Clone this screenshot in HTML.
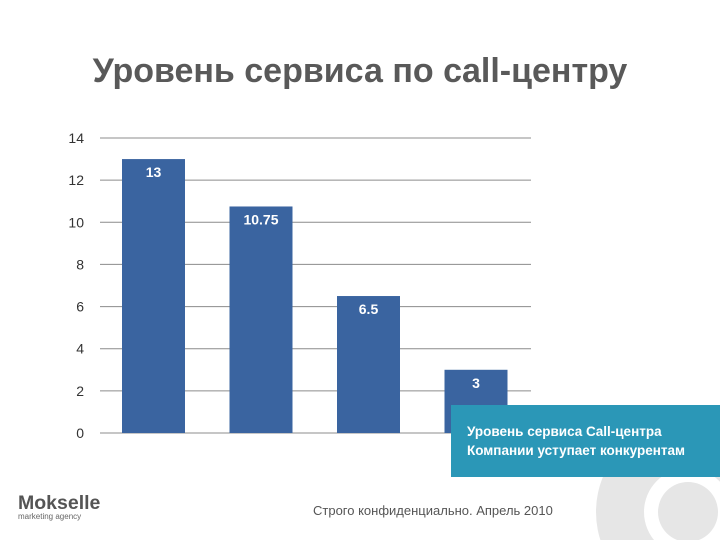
<!DOCTYPE html>
<html><head><meta charset="utf-8"><style>
html,body{margin:0;width:720px;height:540px;overflow:hidden}
body{background:#fff;position:relative;font-family:"Liberation Sans","DejaVu Sans",sans-serif}
.t{position:absolute}
</style></head><body>
<div class="t" style="left:0;width:720px;top:52px;text-align:center;font-size:34px;font-weight:bold;color:#595959">Уровень сервиса по call-центру</div>
<svg class="t" style="left:0;top:0;overflow:hidden" width="720" height="540">
<g id="deco">
<circle cx="688" cy="512" r="92" fill="#e6e6e6"/>
<circle cx="688" cy="512" r="44" fill="#fff"/>
<circle cx="688" cy="512" r="30" fill="#e6e6e6"/>
</g>
<g id="grid"></g><g id="bars"></g>
</svg>
<div class="t" style="left:451px;top:405px;width:269px;height:72px;background:#2b97b7;color:#fff;font-size:13.5px;font-weight:bold;box-sizing:border-box;padding:17px 0 0 16px;line-height:19px">Уровень сервиса Call-центра<br>Компании уступает конкурентам</div>
<div class="t" style="left:313px;top:503px;font-size:13px;color:#555">Строго конфиденциально. Апрель 2010</div>
<div class="t" style="left:18px;top:494px;font-size:19.5px;font-weight:bold;color:#555;line-height:19px">Mokselle<div style="font-size:8px;font-weight:normal;line-height:8px;color:#666">marketing agency</div></div>
<script>
const categories=["A","B","C","D"];
const values=[13,10.75,6.5,3];
const labels=["13","10.75","6.5","3"];
const ticks=[0,2,4,6,8,10,12,14];
const ns="http://www.w3.org/2000/svg";
const y=v=>433-v*(295/14);
const x0=100,bw=107.5;
const g=document.getElementById('grid'),b=document.getElementById('bars');
ticks.forEach(t=>{
 const l=document.createElementNS(ns,'line');
 l.setAttribute('x1',100);l.setAttribute('x2',531);l.setAttribute('y1',y(t));l.setAttribute('y2',y(t));
 l.setAttribute('stroke','#8c8c8c');l.setAttribute('stroke-width','1');
 
 
 g.appendChild(l);
 const tx=document.createElementNS(ns,'text');
 tx.setAttribute('x',84);tx.setAttribute('y',y(t)+5);tx.setAttribute('text-anchor','end');
 tx.setAttribute('font-size','14');tx.setAttribute('fill','#333');tx.textContent=t;
 
 
 g.appendChild(tx);
});
values.forEach((v,i)=>{
 const bx=x0+i*bw+22,w=63;
 const r=document.createElementNS(ns,'rect');
 r.setAttribute('x',bx);r.setAttribute('y',y(v));r.setAttribute('width',w);r.setAttribute('height',433-y(v));
 r.setAttribute('fill','#3a64a0');
 
 
 b.appendChild(r);
 const tx=document.createElementNS(ns,'text');
 tx.setAttribute('x',bx+w/2);tx.setAttribute('y',y(v)+18);tx.setAttribute('text-anchor','middle');
 tx.setAttribute('font-size','14');tx.setAttribute('font-weight','bold');tx.setAttribute('fill','#fff');tx.textContent=labels[i];
 
 
 b.appendChild(tx);
});
</script>
</body></html>
